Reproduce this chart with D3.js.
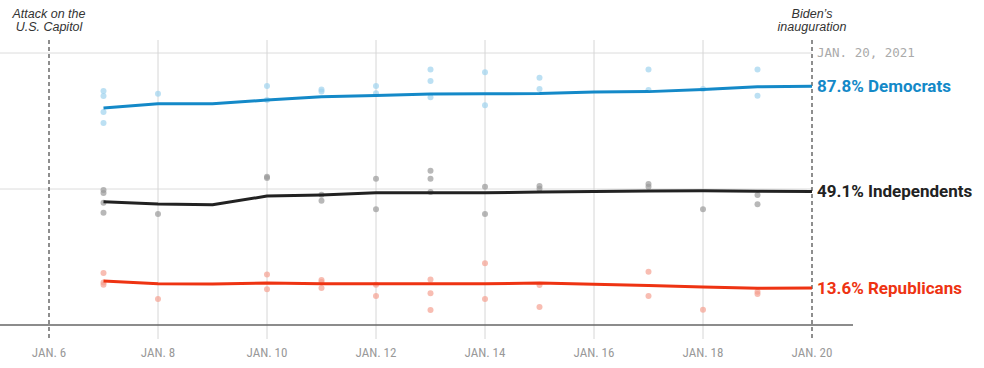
<!DOCTYPE html>
<html><head><meta charset="utf-8">
<script src="https://cdn.jsdelivr.net/npm/d3@7"></script>
<style>
body{margin:0;background:#fff;}
svg{display:block;}
</style></head>
<body><svg id="c" width="984" height="368"></svg>
<script>
// ---- data ----
const days = [7,8,9,10,11,12,13,14,15,16,17,18,19,20];
const demLine = [79.8,81.3,81.3,82.7,83.9,84.4,84.9,85.0,85.1,85.7,85.8,86.6,87.6,87.8];
const indLine = [45.3,44.5,44.2,47.4,47.8,48.6,48.6,48.6,48.9,49.1,49.3,49.4,49.2,49.1];
const repLine = [16.2,15.2,15.1,15.4,15.2,15.2,15.2,15.2,15.4,15.0,14.5,14.0,13.5,13.6];
// poll dots: [day, value]
const demPolls = [[7,86.0],[7,84.2],[7,78.3],[7,74.3],[8,85.0],[10,87.9],[10,82.7],[11,86.6],[11,85.8],[12,87.9],[12,85.2],[13,93.9],[13,89.7],[13,83.7],[14,92.9],[14,80.8],[15,90.9],[15,86.8],[17,93.9],[17,86.4],[18,86.8],[19,93.9],[19,84.3]];
const indPolls = [[7,49.6],[7,48.5],[7,44.9],[7,41.3],[8,40.8],[10,54.5],[10,54.0],[11,47.9],[11,45.7],[12,53.8],[12,42.6],[13,56.7],[13,53.8],[13,48.9],[14,50.8],[14,40.8],[15,51.1],[15,50.1],[17,51.8],[17,50.8],[18,42.6],[19,47.8],[19,44.4]];
const repPolls = [[7,19.1],[7,15.6],[7,14.8],[8,9.6],[10,18.6],[10,13.1],[11,16.5],[11,15.8],[11,13.6],[12,14.8],[12,10.7],[13,16.7],[13,11.7],[13,5.5],[14,22.7],[14,9.6],[15,14.7],[15,6.6],[17,19.6],[17,10.7],[18,5.6],[19,12.2],[19,11.4]];
const tickDays = [6,8,10,12,14,16,18,20];
const tickLabels = ["JAN. 6","JAN. 8","JAN. 10","JAN. 12","JAN. 14","JAN. 16","JAN. 18","JAN. 20"];
const gridValues = [50,100];
const seriesNames = ["Democrats","Independents","Republicans"];
const finalValues = ["87.8%","49.1%","13.6%"];

// ---- drawing ----
const svg = d3.select("#c");
const x = d3.scaleLinear().domain([6,20]).range([49,812]);
const y = d3.scaleLinear().domain([0,100]).range([325,53]);

const series = [
  {line:demLine, polls:demPolls, color:"#1489c8", dot:"#9fd3ee", name:seriesNames[0], val:finalValues[0]},
  {line:indLine, polls:indPolls, color:"#222222", dot:"#9a9a9a", name:seriesNames[1], val:finalValues[1]},
  {line:repLine, polls:repPolls, color:"#ee3312", dot:"#f5a191", name:seriesNames[2], val:finalValues[2]}
];

// horizontal gridlines
svg.selectAll(".hg").data(gridValues).enter().append("line")
  .attr("x1",0).attr("x2",812).attr("y1",d=>y(d)).attr("y2",d=>y(d))
  .attr("stroke","#dcdcdc").attr("stroke-width",1);

// vertical gridlines
svg.selectAll(".vg").data(tickDays.filter(d=>d!==6&&d!==20)).enter().append("line")
  .attr("x1",d=>x(d)).attr("x2",d=>x(d)).attr("y1",40).attr("y2",339)
  .attr("stroke","#d6d6d6").attr("stroke-width",1);

// bottom axis line
svg.append("line").attr("x1",0).attr("x2",853).attr("y1",y(0)).attr("y2",y(0))
  .attr("stroke","#666").attr("stroke-width",1.5);

// dashed event lines
[6,20].forEach(d=>{
  svg.append("line").attr("x1",x(d)).attr("x2",x(d)).attr("y1",40).attr("y2",339)
    .attr("stroke","#444").attr("stroke-width",1.2).attr("stroke-dasharray","4,3");
});

// tick labels
svg.selectAll(".tl").data(tickDays).enter().append("text")
  .attr("x",d=>x(d)).attr("y",357).attr("text-anchor","middle")
  .attr("font-family","'Liberation Sans Narrow','Roboto Condensed','Arial Narrow',sans-serif")
  .attr("font-size",13).attr("fill","#999")
  .text((d,i)=>tickLabels[i]);

// dots
series.forEach(s=>{
  svg.append("g").selectAll("circle").data(s.polls).enter().append("circle")
    .attr("cx",d=>x(d[0])).attr("cy",d=>y(d[1])).attr("r",3)
    .attr("fill",s.dot).attr("opacity",0.7);
});

// lines
const lineGen = d3.line().x((d,i)=>x(days[i])).y(d=>y(d)).curve(d3.curveLinear);
series.forEach(s=>{
  svg.append("path").datum(s.line).attr("d",lineGen)
    .attr("fill","none").attr("stroke",s.color).attr("stroke-width",3)
    .attr("stroke-linejoin","round");
});

// end labels
series.forEach(s=>{
  const v = s.line[s.line.length-1];
  svg.append("text").attr("x",817).attr("y",y(v)+6)
    .attr("font-family","Roboto, 'Liberation Sans', sans-serif")
    .attr("font-weight","bold").attr("font-size",17).attr("fill",s.color)
    .text(s.val+" "+s.name);
});

// date label
svg.append("text").attr("x",817).attr("y",57)
  .attr("font-family","'DejaVu Sans Mono', monospace").attr("font-size",12.5)
  .attr("fill","#aaa").text("JAN. 20, 2021");

// annotations
const ann = [{d:6, lines:["Attack on the","U.S. Capitol"]},{d:20, lines:["Biden’s","inauguration"]}];
ann.forEach(a=>{
  a.lines.forEach((t,i)=>{
    svg.append("text").attr("x",x(a.d)).attr("y",18+i*12.5).attr("text-anchor","middle")
      .attr("font-family","'Liberation Sans', Arial, sans-serif").attr("font-style","italic")
      .attr("font-size",12.5).attr("fill","#333").text(t);
  });
});
</script>
</body></html>
